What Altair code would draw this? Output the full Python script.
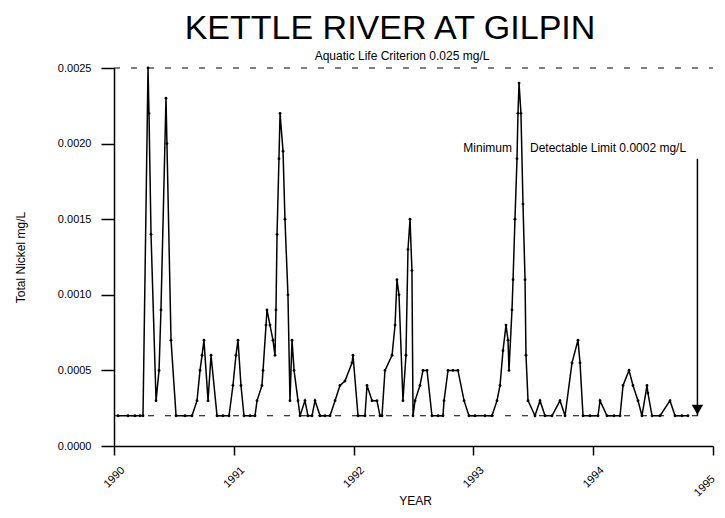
import altair as alt
import pandas as pd

# ---- data ----
years = [
    1990.033, 1990.117, 1990.175, 1990.217, 1990.242, 1990.284, 1990.292, 1990.309,
    1990.351, 1990.376, 1990.392, 1990.434, 1990.442, 1990.476, 1990.518, 1990.593,
    1990.651, 1990.693, 1990.718, 1990.735, 1990.751, 1990.785, 1990.810, 1990.860,
    1990.910, 1990.960, 1990.993, 1991.018, 1991.035, 1991.060, 1991.085, 1991.135,
    1991.177, 1991.194, 1991.235, 1991.244, 1991.269, 1991.277, 1991.302, 1991.327,
    1991.344, 1991.352, 1991.361, 1991.377, 1991.386, 1991.411, 1991.427, 1991.452,
    1991.469, 1991.486, 1991.503, 1991.536, 1991.553, 1991.594, 1991.619, 1991.653,
    1991.678, 1991.720, 1991.761, 1991.803, 1991.845, 1991.886, 1991.928, 1991.987,
    1991.995, 1992.037, 1992.095, 1992.112, 1992.154, 1992.195, 1992.220, 1992.237,
    1992.262, 1992.321, 1992.346, 1992.362, 1992.379, 1992.412, 1992.437, 1992.454,
    1992.471, 1992.487, 1992.496, 1992.513, 1992.554, 1992.579, 1992.613, 1992.654,
    1992.705, 1992.746, 1992.755, 1992.788, 1992.830, 1992.871, 1992.922, 1992.963,
    1993.013, 1993.097, 1993.155, 1993.197, 1993.222, 1993.247, 1993.272, 1993.289,
    1993.297, 1993.322, 1993.331, 1993.347, 1993.364, 1993.372, 1993.381, 1993.397,
    1993.414, 1993.431, 1993.439, 1993.456, 1993.514, 1993.556, 1993.598, 1993.656,
    1993.723, 1993.765, 1993.823, 1993.873, 1993.890, 1993.915, 1993.973, 1994.040,
    1994.057, 1994.115, 1994.174, 1994.224, 1994.249, 1994.299, 1994.332, 1994.374,
    1994.407, 1994.449, 1994.457, 1994.491, 1994.558, 1994.641, 1994.683, 1994.741,
    1994.791,
]
nickel = [
    0.0002, 0.0002, 0.0002, 0.0002, 0.0002, 0.0025, 0.0022, 0.0014,
    0.0003, 0.0005, 0.0009, 0.0023, 0.0020, 0.0007, 0.0002, 0.0002,
    0.0002, 0.0003, 0.0005, 0.0006, 0.0007, 0.0003, 0.0006, 0.0002,
    0.0002, 0.0002, 0.0004, 0.0006, 0.0007, 0.0004, 0.0002, 0.0002,
    0.0002, 0.0003, 0.0004, 0.0005, 0.0008, 0.0009, 0.0008, 0.0007,
    0.0006, 0.0009, 0.0014, 0.0019, 0.0022, 0.00195, 0.0015, 0.0010,
    0.0003, 0.0007, 0.0005, 0.0003, 0.0002, 0.0003, 0.0002, 0.0002,
    0.0003, 0.0002, 0.0002, 0.0002, 0.0003, 0.0004, 0.00043, 0.00055,
    0.0006, 0.0002, 0.0002, 0.0004, 0.0003, 0.0003, 0.0002, 0.0002,
    0.0005, 0.0006, 0.0008, 0.0011, 0.0010, 0.0003, 0.0006, 0.0013,
    0.0015, 0.00116, 0.0002, 0.0003, 0.0004, 0.0005, 0.0005, 0.0002,
    0.0002, 0.0002, 0.0003, 0.0005, 0.0005, 0.0005, 0.0003, 0.0002,
    0.0002, 0.0002, 0.0002, 0.0003, 0.0004, 0.00063, 0.0008, 0.0007,
    0.0005, 0.0009, 0.0011, 0.0015, 0.0019, 0.0022, 0.0024, 0.0022,
    0.0016, 0.0011, 0.0006, 0.0003, 0.0002, 0.0003, 0.0002, 0.0002,
    0.0003, 0.0002, 0.00055, 0.0007, 0.00055, 0.0002, 0.0002, 0.0002,
    0.0003, 0.0002, 0.0002, 0.0002, 0.0004, 0.0005, 0.0004, 0.0003,
    0.0002, 0.0004, 0.00035, 0.0002, 0.0002, 0.0003, 0.0002, 0.0002,
    0.0002,
]

x_ticks = [1990, 1991, 1992, 1993, 1994, 1995]
y_ticks = [0.0, 0.0005, 0.0010, 0.0015, 0.0020, 0.0025]

criterion_value = 0.0025
detect_value = 0.0002
detect_line_end = 1994.95
arrow_year = 1994.87
arrow_top = 0.0019

title_text = "KETTLE RIVER AT GILPIN"
criterion_text = "Aquatic Life Criterion 0.025 mg/L"
min_text = "Minimum"
detect_text = "Detectable Limit 0.0002 mg/L"

FONT = "Liberation Sans"

df = pd.DataFrame({"year": years, "nickel": nickel})

xscale = alt.Scale(domain=[x_ticks[0], x_ticks[-1]], nice=False, zero=False)
yscale = alt.Scale(domain=[y_ticks[0], y_ticks[-1]], nice=False)

last_tick = x_ticks[-1]
xaxis = alt.Axis(
    values=x_ticks, format="d", labelAngle=-45,
    labelAlign=alt.ExprRef(expr=f"datum.value == {last_tick} ? 'right' : 'center'"),
    labelBaseline="middle", labelPadding=22, tickSize=9, grid=False,
    title="YEAR", titleX=301, titleY=54, titleAlign="center", titleBaseline="middle",
    titleFontWeight="normal", titleFontSize=12, labelFontSize=11,
)
yaxis = alt.Axis(
    values=y_ticks, format=".4f", tickSize=13, labelPadding=10, grid=False,
    title="Total Nickel mg/L", titleX=-94, titleY=189, titleAlign="center",
    titleBaseline="middle", titleFontWeight="normal", titleFontSize=12,
    labelFontSize=11,
)

line = alt.Chart(df).mark_line(
    color="black", strokeWidth=1.5,
    point=alt.OverlayMarkDef(filled=True, color="black", size=8),
).encode(
    x=alt.X("year:Q", scale=xscale, axis=xaxis),
    y=alt.Y("nickel:Q", scale=yscale, axis=yaxis),
)

crit = alt.Chart(pd.DataFrame({"x": [x_ticks[0]], "x2": [x_ticks[-1]], "y": [criterion_value]})).mark_rule(
    color="black", strokeWidth=1.2, strokeDash=[6, 11]
).encode(x=alt.X("x:Q", scale=xscale), x2="x2:Q", y=alt.Y("y:Q", scale=yscale))

det = alt.Chart(pd.DataFrame({"x": [x_ticks[0]], "x2": [detect_line_end], "y": [detect_value]})).mark_rule(
    color="black", strokeWidth=1.2, strokeDash=[6, 11]
).encode(x=alt.X("x:Q", scale=xscale), x2="x2:Q", y=alt.Y("y:Q", scale=yscale))

arrow = alt.Chart(pd.DataFrame({"x": [arrow_year], "y": [arrow_top], "y2": [detect_value]})).mark_rule(
    color="black", strokeWidth=1.5
).encode(x=alt.X("x:Q", scale=xscale), y=alt.Y("y:Q", scale=yscale), y2="y2:Q")

head = alt.Chart(pd.DataFrame({"x": [arrow_year], "y": [detect_value]})).mark_point(
    shape="triangle-down", filled=True, color="black", opacity=1, size=130, yOffset=-6
).encode(x=alt.X("x:Q", scale=xscale), y=alt.Y("y:Q", scale=yscale))

dummy = alt.Data(values=[{}])
title = alt.Chart(dummy).mark_text(
    text=title_text, font=FONT, fontSize=34, align="center", baseline="alphabetic", color="black"
).encode(x=alt.value(276), y=alt.value(-29))
crit_t = alt.Chart(dummy).mark_text(
    text=criterion_text, font=FONT, fontSize=12, align="center", baseline="alphabetic", color="black"
).encode(x=alt.value(288), y=alt.value(-8))
min_t = alt.Chart(dummy).mark_text(
    text=min_text, font=FONT, fontSize=12, align="right", baseline="alphabetic", color="black"
).encode(x=alt.value(398), y=alt.value(84))
det_t = alt.Chart(dummy).mark_text(
    text=detect_text, font=FONT, fontSize=12, align="left", baseline="alphabetic", color="black"
).encode(x=alt.value(416), y=alt.value(84))

chart = alt.layer(crit, det, line, arrow, head, title, crit_t, min_t, det_t).properties(
    width=599, height=378,
    autosize=alt.AutoSizeParams(type="none"),
    padding={"left": 106, "top": 60, "right": 3, "bottom": 64},
).configure_view(stroke=None).configure_axis(
    domainColor="black", tickColor="black", domainWidth=1.5, tickWidth=1.5,
    labelColor="black", titleColor="black", labelFont=FONT, titleFont=FONT,
)

chart.save("out.html", embed_options={"renderer": "svg", "actions": False})
